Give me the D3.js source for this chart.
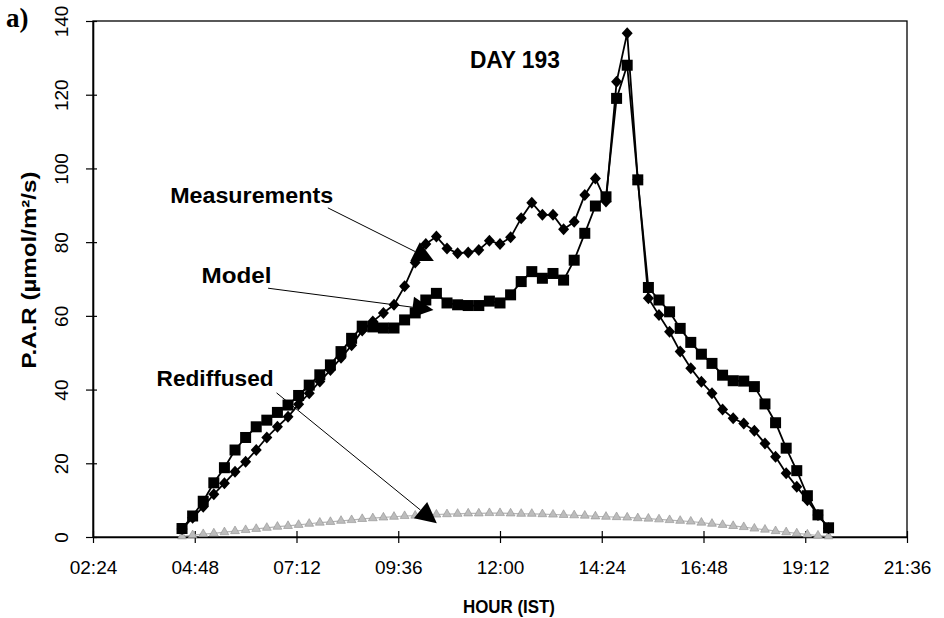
<!DOCTYPE html>
<html>
<head>
<meta charset="utf-8">
<script src="https://cdn.jsdelivr.net/npm/d3@7"></script>
<style>
  html, body { margin: 0; padding: 0; background: #fff; }
  svg { display: block; }
  text { font-family: "Liberation Sans", Arial, sans-serif; fill: #000; }
</style>
</head>
<body>
<svg id="chart" width="944" height="618"></svg>
<script>
// Sampling times (IST), every quarter hour
const times = [
  "04:30","04:45","05:00","05:15","05:30","05:45","06:00","06:15","06:30","06:45",
  "07:00","07:15","07:30","07:45","08:00","08:15","08:30","08:45","09:00","09:15",
  "09:30","09:45","10:00","10:15","10:30","10:45","11:00","11:15","11:30","11:45",
  "12:00","12:15","12:30","12:45","13:00","13:15","13:30","13:45","14:00","14:15",
  "14:30","14:45","15:00","15:15","15:30","15:45","16:00","16:15","16:30","16:45",
  "17:00","17:15","17:30","17:45","18:00","18:15","18:30","18:45","19:00","19:15",
  "19:30","19:45"
];

// P.A.R in µmol/m²/s
const measurements = [
  2.2, 5.2, 8.2, 11.6, 14.6, 17.7, 20.4, 23.6, 27.0, 29.9,
  32.6, 36.0, 39.0, 42.2, 45.3, 48.6, 52.0, 56.0, 58.5, 60.8,
  63.0, 68.0, 74.5, 79.5, 81.5, 78.3, 77.0, 77.2, 77.9, 80.4,
  79.5, 81.3, 86.5, 90.7, 87.4, 87.4, 83.5, 85.5, 92.8, 97.3,
  91.0, 123.5, 136.7, 97.0, 64.8, 60.2, 55.7, 50.3, 45.8, 42.1,
  39.0, 34.6, 32.2, 30.8, 28.8, 25.4, 21.8, 17.3, 13.6, 10.0,
  6.0, 2.4
];

const model = [
  2.3, 5.7, 9.7, 14.7, 18.8, 23.6, 27.0, 29.9, 31.7, 33.8,
  35.8, 38.4, 41.2, 44.0, 46.7, 50.3, 53.9, 57.2, 57.0, 56.7,
  56.7, 58.9, 60.8, 64.3, 66.1, 63.5, 63.0, 62.8, 62.8, 64.0,
  63.5, 65.7, 69.3, 72.0, 70.2, 71.5, 69.7, 75.1, 82.4, 89.8,
  92.3, 119.0, 128.0, 96.9, 67.7, 64.3, 61.1, 56.6, 52.8, 49.6,
  47.1, 43.9, 42.4, 42.3, 40.8, 36.1, 31.0, 24.1, 18.0, 11.2,
  6.0, 2.5
];

const rediffused = [
  0.2, 0.5, 0.8, 1.0, 1.3, 1.6, 1.9, 2.2, 2.5, 2.8,
  3.0, 3.3, 3.6, 3.9, 4.1, 4.4, 4.6, 4.9, 5.1, 5.3,
  5.5, 5.7, 5.8, 6.0, 6.1, 6.2, 6.3, 6.4, 6.4, 6.5,
  6.5, 6.4, 6.3, 6.3, 6.2, 6.1, 6.0, 5.9, 5.8, 5.6,
  5.5, 5.4, 5.3, 5.1, 5.0, 4.8, 4.6, 4.4, 4.2, 3.9,
  3.6, 3.3, 3.0, 2.7, 2.3, 2.0, 1.6, 1.3, 1.0, 0.7,
  0.4, 0.2
];

// Axis ticks (hours as decimals, with their clock labels)
const xTickHours = [2.4, 4.8, 7.2, 9.6, 12.0, 14.4, 16.8, 19.2, 21.6];
const xTickLabels = ["02:24","04:48","07:12","09:36","12:00","14:24","16:48","19:12","21:36"];
const yTicks = [0, 20, 40, 60, 80, 100, 120, 140];

// Call-out labels with their pointer lines, in data units (hours, P.A.R)
const callouts = [
  { text: "Measurements", lx: 4.22, ly: 90.7, width: 163, from: [7.94, 89.3], to: [10.44, 74.9] },
  { text: "Model",        lx: 4.96, ly: 69.0, width: 70,  from: [6.53, 67.5], to: [10.43, 61.6] },
  { text: "Rediffused",   lx: 3.90, ly: 41.0, width: 117, from: [6.73, 39.1], to: [10.51, 3.7] }
];

const toHours = s => { const [h, m] = s.split(":").map(Number); return h + m / 60; };

const svg = d3.select("#chart");
const plot = { left: 93, right: 907, top: 21, bottom: 537 };

const x = d3.scaleLinear().domain([2.4, 21.6]).range([plot.left, plot.right]);
const y = d3.scaleLinear().domain([0, 140]).range([plot.bottom, plot.top]);

// Frame
svg.append("rect")
  .attr("x", plot.left).attr("y", plot.top)
  .attr("width", plot.right - plot.left).attr("height", plot.bottom - plot.top)
  .attr("fill", "none").attr("stroke", "#000").attr("stroke-width", 1.3);

// X axis
const xAxis = svg.append("g")
  .attr("transform", `translate(0,${plot.bottom})`)
  .call(d3.axisBottom(x).tickValues(xTickHours)
    .tickFormat((d, i) => xTickLabels[i]).tickSizeOuter(0));
xAxis.select(".domain").attr("stroke", "#000").attr("stroke-width", 1.6);
xAxis.selectAll(".tick line").attr("y1", -6).attr("y2", 6).attr("stroke", "#000").attr("stroke-width", 1.2);
xAxis.selectAll(".tick text")
  .attr("y", 37).attr("dy", 0)
  .style("font-family", "'Liberation Sans', Arial, sans-serif")
  .style("font-size", "19px").attr("fill", "#000");

// Y axis
const yAxis = svg.append("g")
  .attr("transform", `translate(${plot.left},0)`)
  .call(d3.axisLeft(y).tickValues(yTicks).tickFormat(d3.format("d")).tickSizeOuter(0));
yAxis.select(".domain").attr("stroke", "#000").attr("stroke-width", 1.6);
yAxis.selectAll(".tick line").attr("x1", -7).attr("x2", 4).attr("stroke", "#000").attr("stroke-width", 1.2);
yAxis.selectAll(".tick text")
  .attr("x", 0).attr("y", 0).attr("dy", 0)
  .attr("text-anchor", "middle")
  .attr("transform", "translate(-25,0) rotate(-90)")
  .style("font-family", "'Liberation Sans', Arial, sans-serif")
  .style("font-size", "19px").attr("fill", "#000");

// Axis titles
svg.append("text")
  .attr("x", 509).attr("y", 613)
  .attr("text-anchor", "middle")
  .attr("font-weight", "bold").attr("font-size", 19)
  .attr("textLength", 92).attr("lengthAdjust", "spacingAndGlyphs")
  .text("HOUR (IST)");

svg.append("text")
  .attr("transform", `translate(36,${(370 + 170) / 2}) rotate(-90)`)
  .attr("text-anchor", "middle")
  .attr("font-weight", "bold").attr("font-size", 20)
  .attr("textLength", 197).attr("lengthAdjust", "spacingAndGlyphs")
  .text("P.A.R (µmol/m²/s)");

// Panel letter
svg.append("text")
  .attr("x", 6).attr("y", 27)
  .style("font-family", "'Liberation Serif', 'Times New Roman', serif")
  .attr("font-weight", "bold").attr("font-size", 27)
  .text("a)");

// Day title
svg.append("text")
  .attr("x", x(11.29)).attr("y", y(127.2))
  .attr("font-weight", "bold").attr("font-size", 23)
  .attr("textLength", 90).attr("lengthAdjust", "spacingAndGlyphs")
  .text("DAY 193");

const hrs = times.map(toHours);
const series = (vals) => vals.map((v, i) => [hrs[i], v]);

// Rediffused component: grey triangles along the base
const g = svg.append("g");
g.append("path")
  .datum(series(rediffused))
  .attr("fill", "none").attr("stroke", "#b5b5b5").attr("stroke-width", 1.2)
  .attr("d", d3.line().x(d => x(d[0])).y(d => y(d[1])));
g.selectAll(".tri").data(series(rediffused)).join("path")
  .attr("class", "tri")
  .attr("transform", d => `translate(${x(d[0])},${y(d[1])})`)
  .attr("d", d3.symbol(d3.symbolTriangle, 34))
  .attr("fill", "#bcbcbc").attr("stroke", "#8e8e8e").attr("stroke-width", 0.6);

const line = d3.line().x(d => x(d[0])).y(d => y(d[1]));

// Measurements: line with diamonds
g.append("path").datum(series(measurements))
  .attr("fill", "none").attr("stroke", "#000").attr("stroke-width", 1.8).attr("d", line);
g.selectAll(".dia").data(series(measurements)).join("path")
  .attr("class", "dia")
  .attr("transform", d => `translate(${x(d[0])},${y(d[1])})`)
  .attr("d", "M0,-6L5.5,0L0,6L-5.5,0Z")
  .attr("fill", "#000");

// Model: line with squares
g.append("path").datum(series(model))
  .attr("fill", "none").attr("stroke", "#000").attr("stroke-width", 1.8).attr("d", line);
g.selectAll(".sq").data(series(model)).join("rect")
  .attr("class", "sq")
  .attr("x", d => x(d[0]) - 5.5).attr("y", d => y(d[1]) - 5.5)
  .attr("width", 11).attr("height", 11)
  .attr("fill", "#000");

// Call-outs
const ann = svg.append("g");
callouts.forEach(c => {
  ann.append("text")
    .attr("x", x(c.lx)).attr("y", y(c.ly))
    .attr("font-weight", "bold").attr("font-size", 22)
    .attr("textLength", c.width).attr("lengthAdjust", "spacingAndGlyphs")
    .text(c.text);
  const x0 = x(c.from[0]), y0 = y(c.from[1]);
  const x1 = x(c.to[0]), y1 = y(c.to[1]);
  const len = Math.hypot(x1 - x0, y1 - y0);
  const ux = (x1 - x0) / len, uy = (y1 - y0) / len;
  const headLen = 21, headHalf = 10.5;
  const bx = x1 - ux * headLen, by = y1 - uy * headLen;
  ann.append("line")
    .attr("x1", x0).attr("y1", y0).attr("x2", bx).attr("y2", by)
    .attr("stroke", "#000").attr("stroke-width", 1);
  ann.append("path")
    .attr("d", `M${x1},${y1}L${bx - uy * headHalf},${by + ux * headHalf}L${bx + uy * headHalf},${by - ux * headHalf}Z`)
    .attr("fill", "#000");
});
</script>
</body>
</html>
